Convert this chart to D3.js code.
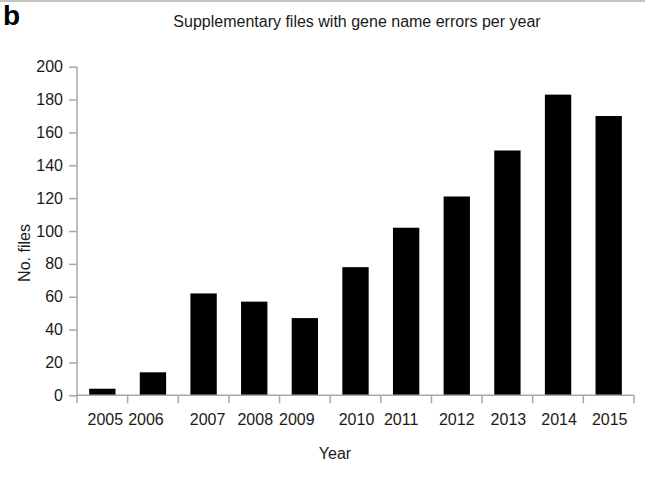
<!DOCTYPE html>
<html>
<head>
<meta charset="utf-8">
<script src="https://cdn.jsdelivr.net/npm/d3@7"></script>
<style>
  body { margin: 0; background: #fff; }
  svg { display: block; font-family: "Liberation Sans", Arial, sans-serif; }
</style>
</head>
<body>
<div id="chart"></div>
<script>
// data
const years = ["2005", "2006", "2007", "2008", "2009", "2010", "2011", "2012", "2013", "2014", "2015"];
const files = [4, 14, 62, 57, 47, 78, 102, 121, 149, 183, 170];
const yTicks = [0, 20, 40, 60, 80, 100, 120, 140, 160, 180, 200];

// the original labels sit a bit off centre, nudge them the same way
const labelShift = [3, -7, 4, 1, -8, 1, -5, 0, 1, 1, 1];

const width = 645;
const height = 483;
const margin = { top: 66.7, right: 11, bottom: 87.7, left: 77 };
const axisColor = "#a8a8a8";
const textColor = "#1a1a1a";

const svg = d3
  .select("#chart")
  .append("svg")
  .attr("width", width)
  .attr("height", height);

svg.append("rect").attr("width", width).attr("height", height).attr("fill", "#fff");

// thin rule along the top edge
svg.append("rect").attr("x", 0).attr("y", 0).attr("width", width).attr("height", 2).attr("fill", "#c4c4c4");

const x = d3
  .scaleBand()
  .domain(years)
  .range([margin.left, width - margin.right])
  .paddingInner(0.48)
  .paddingOuter(0.24);

const y = d3
  .scaleLinear()
  .domain([0, 200])
  .range([height - margin.bottom, margin.top]);

// bars
svg
  .append("g")
  .selectAll("rect")
  .data(years)
  .join("rect")
  .attr("x", (d) => x(d))
  .attr("y", (d, i) => y(files[i]))
  .attr("width", x.bandwidth())
  .attr("height", (d, i) => y(0) - y(files[i]))
  .attr("fill", "#000");

// y axis
const yAxis = svg
  .append("g")
  .attr("transform", `translate(${margin.left},0)`)
  .call(d3.axisLeft(y).tickValues(yTicks).tickSize(8).tickPadding(6));
yAxis.select(".domain").attr("stroke", axisColor).attr("stroke-width", 1.5).attr("d", `M0,${y(200)}V${y(0)}`);
yAxis.selectAll(".tick line").attr("stroke", axisColor).attr("stroke-width", 1.5);
yAxis.selectAll("text").attr("font-size", "16px").attr("fill", textColor);

// x axis: labels under bars, ticks between bars
const xAxis = svg
  .append("g")
  .attr("transform", `translate(0,${y(0)})`)
  .call(d3.axisBottom(x).tickSize(0).tickPadding(18));
xAxis.select(".domain").attr("stroke", axisColor).attr("stroke-width", 1.5)
  .attr("d", `M${x.range()[0]},0H${x.range()[1]}`);
xAxis.selectAll("text")
  .attr("font-size", "16px")
  .attr("fill", textColor)
  .attr("dx", (d, i) => labelShift[i]);

const gap = x.step() * x.paddingInner();
const boundaries = years.map((d) => x(d) - gap / 2);
boundaries[0] = x.range()[0];
boundaries.push(x.range()[1]);
xAxis
  .selectAll("line.sep")
  .data(boundaries)
  .join("line")
  .attr("class", "sep")
  .attr("x1", (d) => d)
  .attr("x2", (d) => d)
  .attr("y1", 0)
  .attr("y2", 8)
  .attr("stroke", axisColor)
  .attr("stroke-width", 1.5);

// titles
svg
  .append("text")
  .attr("x", 3)
  .attr("y", 24.5)
  .attr("font-size", "28px")
  .attr("font-weight", "bold")
  .attr("fill", "#000")
  .text("b");

svg
  .append("text")
  .attr("x", 357)
  .attr("y", 27)
  .attr("text-anchor", "middle")
  .attr("font-size", "16px")
  .attr("fill", textColor)
  .text("Supplementary files with gene name errors per year");

svg
  .append("text")
  .attr("x", 335)
  .attr("y", 459)
  .attr("text-anchor", "middle")
  .attr("font-size", "16px")
  .attr("fill", textColor)
  .text("Year");

svg
  .append("text")
  .attr("transform", "translate(29.5,253) rotate(-90)")
  .attr("text-anchor", "middle")
  .attr("font-size", "16px")
  .attr("fill", textColor)
  .text("No. files");
</script>
</body>
</html>
